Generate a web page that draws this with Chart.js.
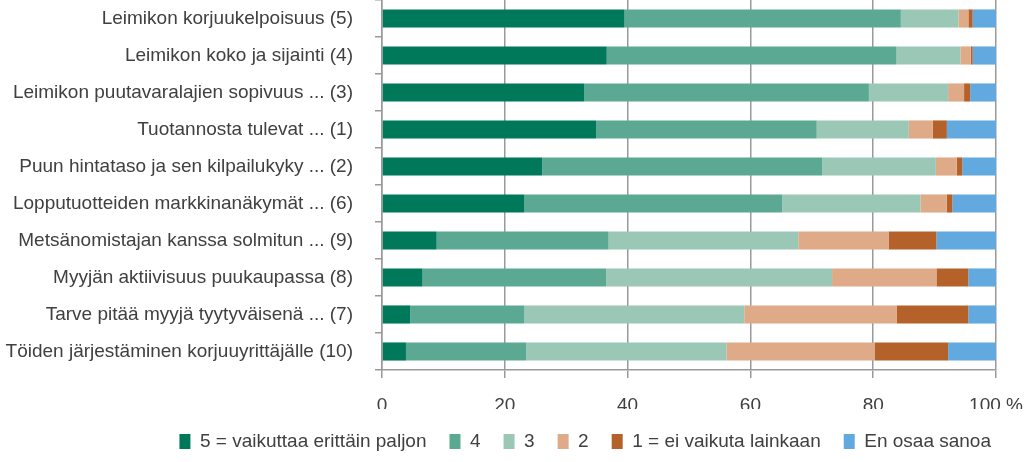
<!DOCTYPE html>
<html>
<head>
<meta charset="utf-8">
<script src="https://cdn.jsdelivr.net/npm/chart.js@4/dist/chart.umd.min.js"></script>
<style>
  html, body { margin: 0; padding: 0; background: #fff; }
  #wrap { width: 1024px; height: 462px; position: relative; }
</style>
</head>
<body>
<div id="wrap"><canvas id="chart"></canvas></div>
<script>
// ===================== DATA =====================
const categories = [
    'Leimikon korjuukelpoisuus (5)',
    'Leimikon koko ja sijainti (4)',
    'Leimikon puutavaralajien sopivuus ... (3)',
    'Tuotannosta tulevat ... (1)',
    'Puun hintataso ja sen kilpailukyky ... (2)',
    'Lopputuotteiden markkinanäkymät ... (6)',
    'Metsänomistajan kanssa solmitun ... (9)',
    'Myyjän aktiivisuus puukaupassa (8)',
    'Tarve pitää myyjä tyytyväisenä ... (7)',
    'Töiden järjestäminen korjuuyrittäjälle (10)'
];

const seriesNames = ['5 = vaikuttaa erittäin paljon', '4', '3', '2', '1 = ei vaikuta lainkaan', 'En osaa sanoa'];

const v5 = [39.5, 36.6, 32.9, 34.9, 26.1, 23.2, 8.9, 6.6, 4.6, 3.9];
const v4 = [45.0, 47.2, 46.4, 35.9, 45.6, 42.0, 28.0, 29.9, 18.6, 19.6];
const v3 = [9.4, 10.4, 12.9, 15.0, 18.5, 22.5, 30.9, 36.8, 35.8, 32.6];
const v2 = [1.6, 1.7, 2.6, 3.9, 3.4, 4.3, 14.7, 17.0, 24.8, 24.1];
const v1 = [0.7, 0.3, 1.0, 2.3, 0.9, 0.9, 7.8, 5.2, 11.7, 12.0];
const vEos = [3.8, 3.8, 4.2, 8.0, 5.5, 7.1, 9.7, 4.5, 4.5, 7.8];

const xTicks = [0, 20, 40, 60, 80, 100];

// ===================== STYLE =====================
const colors = ['#00785a', '#5ba993', '#9ac7b6', '#deaa88', '#b4622a', '#62a9e0'];
const FONT = '"Liberation Sans", Arial, sans-serif';
const TEXT = '#404040';
const GRID = '#999999';

Chart.defaults.font.family = FONT;
Chart.defaults.color = TEXT;

const allValues = [v5, v4, v3, v2, v1, vEos];

// siirretään selite hieman oikealle kuten alkuperäisessä
const legendShift = {
    id: 'legendShift',
    afterLayout(chart) {
        if (!chart.legend) return;
        chart.legend.left += 18;
        chart.legend.right += 18;
    }
};

new Chart(document.getElementById('chart'), {
    type: 'bar',
    data: {
        labels: categories,
        datasets: allValues.map((vals, i) => ({
            label: seriesNames[i],
            data: vals,
            backgroundColor: colors[i],
            borderWidth: 0,
            categoryPercentage: 1,
            barPercentage: 0.49
        }))
    },
    options: {
        indexAxis: 'y',
        responsive: true,
        maintainAspectRatio: false,
        animation: false,
        layout: { padding: { top: 0, right: 28, left: 0, bottom: 1 } },
        plugins: {
            tooltip: { enabled: false },
            legend: {
                position: 'bottom',
                align: 'end',
                labels: {
                    boxWidth: 11,
                    boxHeight: 15,
                    padding: 23,
                    font: { size: 19 },
                    color: TEXT
                }
            }
        },
        scales: {
            x: {
                stacked: true,
                min: 0,
                max: 100,
                afterBuildTicks: s => { s.ticks = xTicks.map(v => ({ value: v })); },
                afterFit: s => { s.height = 39; s.paddingLeft = 0; s.paddingRight = 0; },
                ticks: {
                    padding: 16,
                    maxRotation: 0,
                    font: { size: 19 },
                    color: TEXT,
                    callback: v => v === 100 ? '100 %' : String(v)
                },
                grid: { color: GRID, lineWidth: 1.5, tickLength: 8, drawTicks: true },
                border: { color: GRID, width: 1.5 }
            },
            y: {
                stacked: true,
                afterFit: s => { s.width = 382; s.paddingTop = 0; s.paddingBottom = 0; },
                ticks: {
                    padding: 22,
                    font: { size: 19 },
                    color: TEXT
                },
                grid: { drawOnChartArea: false, drawTicks: true, tickLength: 7, color: GRID, lineWidth: 1.5, offset: true },
                border: { color: GRID, width: 1.5 }
            }
        }
    },
    plugins: [legendShift]
});
</script>
</body>
</html>
